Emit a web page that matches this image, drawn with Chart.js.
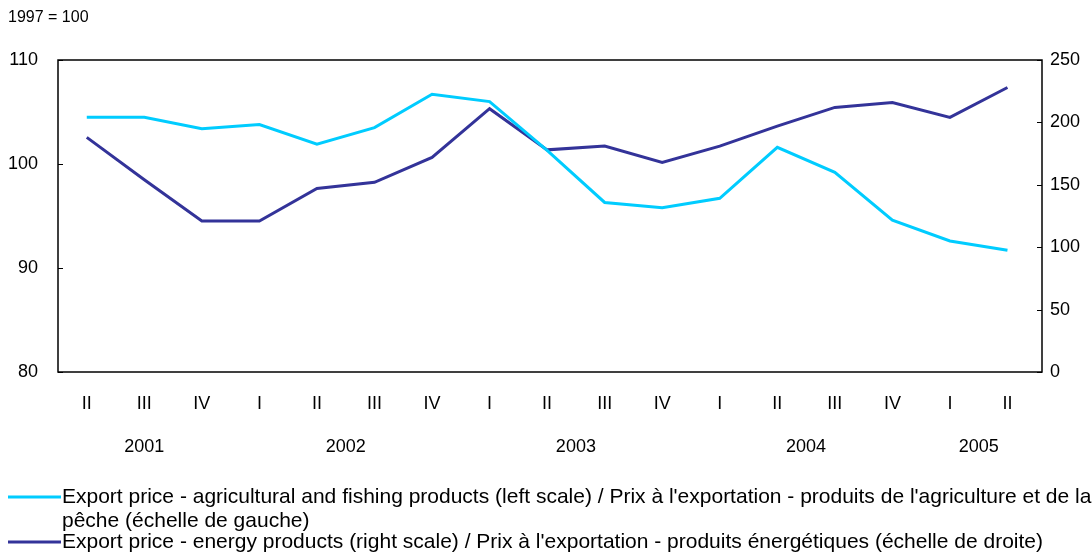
<!DOCTYPE html>
<html>
<head>
<meta charset="utf-8">
<script src="https://cdn.jsdelivr.net/npm/chart.js@4"></script>
<style>
  html, body { margin: 0; padding: 0; background: #fff; }
  #wrap { position: relative; width: 1092px; height: 560px; }
</style>
</head>
<body>
<div id="wrap"><canvas id="chart" width="1092" height="560"></canvas></div>
<script>
// quarters 2001 Q2 .. 2005 Q2
const quarters = ['II', 'III', 'IV', 'I', 'II', 'III', 'IV', 'I', 'II', 'III', 'IV', 'I', 'II', 'III', 'IV', 'I', 'II'];
const years = ['2001', '2002', '2003', '2004', '2005'];
const yearFirst = [0, 3, 7, 11, 15];
const yearLast = [2, 6, 10, 14, 16];

const agriPrice = [104.5, 104.5, 103.4, 103.8, 101.9, 103.5, 106.7, 106.0, 101.3, 96.3, 95.8, 96.7, 101.6, 99.2, 94.6, 92.6, 91.7];
const energyPrice = [188, 154, 121, 121, 147, 152, 172, 211, 178, 181, 168, 181, 197, 212, 216, 204, 228];

const leftTicks = [80, 90, 100, 110];
const rightTicks = [0, 50, 100, 150, 200, 250];

const labelAgri = "Export price - agricultural and fishing products (left scale) / Prix à l'exportation - produits de l'agriculture et de la pêche (échelle de gauche)";
const labelEnergy = "Export price - energy products (right scale) / Prix à l'exportation - produits énergétiques (échelle de droite)";

const colAgri = '#00ccff';
const colEnergy = '#333399';
const FAMILY = '"Liberation Sans", Arial, sans-serif';

function toPoints(arr) {
    return arr.map((v, i) => ({ x: i, y: v }));
}

function wrapText(ctx, text, maxW) {
    const words = text.split(' ');
    const lines = [];
    let cur = '';
    for (const w of words) {
        const test = cur ? cur + ' ' + w : w;
        if (ctx.measureText(test).width > maxW && cur) {
            lines.push(cur);
            cur = w;
        } else {
            cur = test;
        }
    }
    if (cur) lines.push(cur);
    return lines;
}

// frame, year row, note and legend
const decorPlugin = {
    id: 'decor',
    afterDraw(chart) {
        const ctx = chart.ctx;
        const a = chart.chartArea;
        const x = chart.scales.x;
        ctx.save();
        ctx.strokeStyle = '#000';
        ctx.lineWidth = 1.5;
        ctx.strokeRect(a.left, a.top, a.right - a.left, a.bottom - a.top);

        // small inner ticks
        ctx.lineWidth = 1;
        const yl = chart.scales.y, yr = chart.scales.y1;
        leftTicks.forEach(v => {
            const py = Math.round(yl.getPixelForValue(v)) + 0.5;
            ctx.beginPath(); ctx.moveTo(a.left, py); ctx.lineTo(a.left + 5, py); ctx.stroke();
        });
        rightTicks.forEach(v => {
            const py = Math.round(yr.getPixelForValue(v)) + 0.5;
            ctx.beginPath(); ctx.moveTo(a.right, py); ctx.lineTo(a.right - 5, py); ctx.stroke();
        });

        ctx.fillStyle = '#000';
        ctx.font = '16px ' + FAMILY;
        ctx.textBaseline = 'middle';
        ctx.textAlign = 'left';
        ctx.fillText('1997 = 100', 8, 18);

        ctx.font = '18px ' + FAMILY;
        ctx.textAlign = 'center';
        years.forEach((yr, i) => {
            const cx = (x.getPixelForValue(yearFirst[i]) + x.getPixelForValue(yearLast[i])) / 2;
            ctx.fillText(yr, cx, 447);
        });

        // legend
        ctx.font = '21px ' + FAMILY;
        ctx.textAlign = 'left';
        const items = [
            { text: labelAgri, color: colAgri, y: 497 },
            { text: labelEnergy, color: colEnergy, y: 542 }
        ];
        items.forEach(it => {
            ctx.strokeStyle = it.color;
            ctx.lineWidth = 3;
            ctx.beginPath(); ctx.moveTo(8, it.y); ctx.lineTo(61, it.y); ctx.stroke();
            const lines = wrapText(ctx, it.text, 1040);
            lines.forEach((ln, k) => ctx.fillText(ln, 62, it.y + k * 24));
        });
        ctx.restore();
    }
};

const tickFont = { family: FAMILY, size: 18 };

const cfg = {
    type: 'line',
    data: {
        datasets: [
            {
                label: labelAgri,
                data: toPoints(agriPrice),
                yAxisID: 'y',
                borderColor: colAgri,
                backgroundColor: colAgri,
                borderWidth: 3,
                pointRadius: 0,
                tension: 0
            },
            {
                label: labelEnergy,
                data: toPoints(energyPrice),
                yAxisID: 'y1',
                borderColor: colEnergy,
                backgroundColor: colEnergy,
                borderWidth: 3,
                pointRadius: 0,
                tension: 0
            }
        ]
    },
    options: {
        responsive: false,
        animation: false,
        layout: { padding: { top: 60, left: 0, right: 0, bottom: 0 } },
        plugins: {
            legend: { display: false },
            tooltip: { enabled: false }
        },
        scales: {
            x: {
                type: 'linear',
                min: -0.5,
                max: 16.6,
                afterBuildTicks: (s) => { s.ticks = quarters.map((q, i) => ({ value: i })); },
                afterFit: (s) => { s.height = 188; },
                grid: { display: false, drawTicks: false },
                border: { display: false },
                ticks: {
                    autoSkip: false,
                    maxRotation: 0,
                    padding: 21,
                    color: '#000',
                    font: tickFont,
                    callback: (v) => quarters[v] || ''
                }
            },
            y: {
                position: 'left',
                min: 80,
                max: 110,
                afterBuildTicks: (s) => { s.ticks = leftTicks.map(v => ({ value: v })); },
                afterFit: (s) => { s.width = 58; },
                grid: { display: false, drawTicks: false },
                border: { display: false },
                ticks: {
                    padding: 20,
                    color: '#000',
                    font: tickFont
                }
            },
            y1: {
                position: 'right',
                min: 0,
                max: 250,
                afterBuildTicks: (s) => { s.ticks = rightTicks.map(v => ({ value: v })); },
                afterFit: (s) => { s.width = 50; },
                grid: { display: false, drawTicks: false },
                border: { display: false },
                ticks: {
                    padding: 8,
                    color: '#000',
                    font: tickFont
                }
            }
        }
    },
    plugins: [decorPlugin]
};

new Chart(document.getElementById('chart').getContext('2d'), cfg);
</script>
</body>
</html>
